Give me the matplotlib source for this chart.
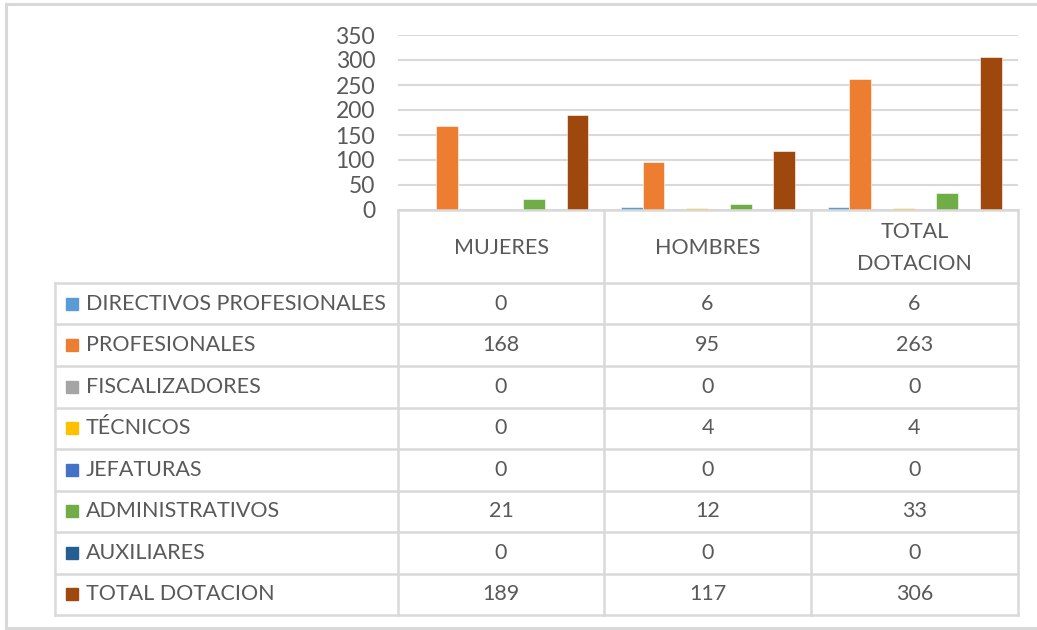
import matplotlib
matplotlib.use("Agg")
import matplotlib.pyplot as plt
import numpy as np
from matplotlib.lines import Line2D
from matplotlib.patches import Rectangle

categories = ["MUJERES", "HOMBRES", "TOTAL\nDOTACION"]
series_names = ["DIRECTIVOS PROFESIONALES", "PROFESIONALES", "FISCALIZADORES",
                "TÉCNICOS", "JEFATURAS", "ADMINISTRATIVOS", "AUXILIARES", "TOTAL DOTACION"]
directivos = [0, 6, 6]
profesionales = [168, 95, 263]
fiscalizadores = [0, 0, 0]
tecnicos = [0, 4, 4]
jefaturas = [0, 0, 0]
administrativos = [21, 12, 33]
auxiliares = [0, 0, 0]
total_dotacion = [189, 117, 306]
values = [directivos, profesionales, fiscalizadores, tecnicos, jefaturas,
          administrativos, auxiliares, total_dotacion]
colors = ["#5B9BD5", "#ED7D31", "#A5A5A5", "#FFC000", "#4472C4",
          "#70AD47", "#255E91", "#9E480E"]
yticks = [0, 50, 100, 150, 200, 250, 300, 350]

W, H = 1037, 630
fig = plt.figure(figsize=(W / 100, H / 100), dpi=100)
FONT = "Lato"
TXT = "#595959"
GRID = "#D9D9D9"
FS = 15.5
FSY = 16.5

def fx(x):
    return x / W

def fy(y):
    return 1 - y / H

# outer chart border
for (x0, y0, x1, y1) in [(6, 4, 1040, 4), (6, 4, 6, 628), (6, 628, 1040, 628)]:
    fig.add_artist(Line2D([fx(x0), fx(x1)], [fy(y0), fy(y1)], color="#D9D9D9", lw=2.2))

# plot area
L, R, T, B = 398, 1018, 35, 210
ax = fig.add_axes([fx(L), fy(B), fx(R) - fx(L), fy(T) - fy(B)])
n = len(values)
bw = 1 / (n + 1.5)
x = np.arange(len(categories))
for i, (vals, c) in enumerate(zip(values, colors)):
    off = -0.5 + 0.75 * bw + (i + 0.5) * bw
    ax.bar(x + off, vals, width=bw, color=c, edgecolor="white", linewidth=0.4, zorder=3)
ax.set_xlim(-0.5, len(categories) - 0.5)
ax.set_ylim(0, 350)
ax.set_yticks(yticks)
ax.set_yticklabels([str(t) for t in yticks], fontsize=FSY, color=TXT, family=FONT)
ax.tick_params(axis="y", length=0, pad=16.5)
ax.set_xticks([])
ax.grid(axis="y", color=GRID, lw=1.5, zorder=0)
for s in ax.spines.values():
    s.set_visible(False)
ax.set_facecolor("none")

# data table lines
col_x = [L, 604, 811, R]
hdr_top, hdr_bot = B, 283
row_h = (615 - hdr_bot) / n
row_y = [hdr_bot + k * row_h for k in range(n + 1)]
tl = 55
lc = GRID
lw = 1.8
def hline(x0, x1, y):
    fig.add_artist(Line2D([fx(x0), fx(x1)], [fy(y), fy(y)], color=lc, lw=lw))
def vline(x, y0, y1):
    fig.add_artist(Line2D([fx(x), fx(x)], [fy(y0), fy(y1)], color=lc, lw=lw))

hline(L, R, hdr_top)
for y in row_y:
    hline(tl, R, y)
vline(tl, row_y[0], row_y[-1])
for cx in col_x:
    vline(cx, hdr_top, row_y[-1])

# header text
for j, cat in enumerate(categories):
    cx = (col_x[j] + col_x[j + 1]) / 2
    fig.text(fx(cx), fy((hdr_top + hdr_bot) / 2 + 1.5), cat, ha="center", va="center",
             fontsize=FS, color=TXT, family=FONT, linespacing=1.75)

# rows
for i, (name, vals, c) in enumerate(zip(series_names, values, colors)):
    yc = (row_y[i] + row_y[i + 1]) / 2
    fig.add_artist(Rectangle((fx(66), fy(yc + 6)), fx(12), 12 / H, color=c,
                             transform=fig.transFigure))
    fig.text(fx(86), fy(yc), name, ha="left", va="center", fontsize=FS,
             color=TXT, family=FONT)
    for j, v in enumerate(vals):
        cx = (col_x[j] + col_x[j + 1]) / 2
        fig.text(fx(cx), fy(yc), str(v), ha="center", va="center", fontsize=FS,
                 color=TXT, family=FONT)

fig.savefig("out.png", dpi=100, facecolor="white")
